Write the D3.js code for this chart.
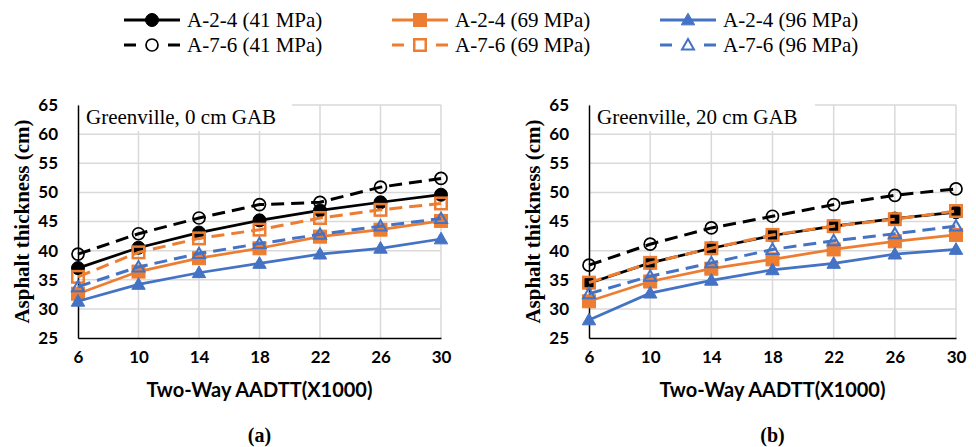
<!DOCTYPE html>
<html>
<head>
<meta charset="utf-8">
<script src="https://cdn.jsdelivr.net/npm/d3@7"></script>
<style>
  body { margin: 0; background: #fff; }
  svg { display: block; }
</style>
</head>
<body>
<div id="chart"></div>
<script>
// Dados
const traffic = [6, 10, 14, 18, 22, 26, 30];
const yTicks = [25, 30, 35, 40, 45, 50, 55, 60, 65];

const seriesNames = ["A-2-4 (41 MPa)", "A-2-4 (69 MPa)", "A-2-4 (96 MPa)",
                     "A-7-6 (41 MPa)", "A-7-6 (69 MPa)", "A-7-6 (96 MPa)"];

// (a) Greenville, 0 cm GAB
const a_A24_41 = [37.0, 40.5, 43.1, 45.2, 46.9, 48.3, 49.6];
const a_A24_69 = [32.6, 36.4, 38.7, 40.4, 42.4, 43.6, 45.1];
const a_A24_96 = [31.3, 34.2, 36.2, 37.8, 39.4, 40.4, 42.0];
const a_A76_41 = [39.4, 42.9, 45.6, 47.9, 48.3, 50.9, 52.4];
const a_A76_69 = [35.5, 39.7, 42.1, 43.6, 45.6, 47.0, 48.1];
const a_A76_96 = [33.8, 37.2, 39.5, 41.2, 42.8, 44.2, 45.5];

// (b) Greenville, 20 cm GAB
const b_A24_41 = [34.4, 37.9, 40.4, 42.6, 44.2, 45.5, 46.6];
const b_A24_69 = [31.3, 34.7, 36.9, 38.5, 40.2, 41.6, 42.7];
const b_A24_96 = [28.1, 32.7, 34.9, 36.7, 37.8, 39.4, 40.2];
const b_A76_41 = [37.5, 41.1, 43.9, 45.9, 47.9, 49.5, 50.6];
const b_A76_69 = [34.5, 37.9, 40.4, 42.7, 44.2, 45.4, 46.8];
const b_A76_96 = [32.6, 35.6, 37.9, 40.2, 41.7, 42.9, 44.2];

const panels = [
    { label: "Greenville, 0 cm GAB", tag: "(a)", x0: 78, x1: 441, boxW: 213,
      values: [a_A24_41, a_A24_69, a_A24_96, a_A76_41, a_A76_69, a_A76_96] },
    { label: "Greenville, 20 cm GAB", tag: "(b)", x0: 589, x1: 956, boxW: 225,
      values: [b_A24_41, b_A24_69, b_A24_96, b_A76_41, b_A76_69, b_A76_96] }
];

// Estilos por série
const orange = "#ED7D31", blue = "#4472C4";
const styles = [
    { color: "#000", dash: null, marker: "circle", filled: true },
    { color: orange, dash: null, marker: "square", filled: true },
    { color: blue, dash: null, marker: "triangle", filled: true },
    { color: "#000", dash: "13,7", marker: "circle", filled: false },
    { color: orange, dash: "13,7", marker: "square", filled: false },
    { color: blue, dash: "13,7", marker: "triangle", filled: false }
];

const W = 976, H = 447;
const plotTop = 105, plotBottom = 338;
const serif = "'Liberation Serif', 'Times New Roman', serif";
const sans = "Lato, 'Liberation Sans', Arial, sans-serif";

const svg = d3.select("#chart").append("svg")
    .attr("width", W).attr("height", H);

function drawMarker(g, type, filled, color, x, y) {
    if (type === "circle") {
        g.append("circle").attr("cx", x).attr("cy", y)
            .attr("r", filled ? 6.5 : 6)
            .attr("fill", filled ? color : "none")
            .attr("stroke", color).attr("stroke-width", filled ? 1 : 1.7);
    } else if (type === "square") {
        const s = filled ? 13 : 11.5;
        g.append("rect").attr("x", x - s / 2).attr("y", y - s / 2)
            .attr("width", s).attr("height", s)
            .attr("fill", filled ? color : "none")
            .attr("stroke", color).attr("stroke-width", filled ? 1 : 2.5);
    } else {
        g.append("path")
            .attr("d", d3.symbol().type(d3.symbolTriangle).size(filled ? 78 : 62)())
            .attr("transform", `translate(${x},${y + 1})`)
            .attr("fill", filled ? color : "none")
            .attr("stroke", color).attr("stroke-width", filled ? 1 : 2);
    }
}

panels.forEach(p => {
    const x = d3.scaleLinear().domain([6, 30]).range([p.x0, p.x1]);
    const y = d3.scaleLinear().domain([25, 65]).range([plotBottom, plotTop]);
    const g = svg.append("g");

    // Grade
    g.append("g").selectAll("line.h")
        .data(yTicks.slice(1)).enter().append("line")
        .attr("x1", p.x0).attr("x2", p.x1)
        .attr("y1", d => y(d)).attr("y2", d => y(d))
        .attr("stroke", "#d9d9d9").attr("stroke-width", 1.5);
    g.append("g").selectAll("line.v")
        .data(traffic.slice(1)).enter().append("line")
        .attr("x1", d => x(d)).attr("x2", d => x(d))
        .attr("y1", plotTop).attr("y2", plotBottom)
        .attr("stroke", "#d9d9d9").attr("stroke-width", 1.5);

    // Caixa branca do rótulo
    g.append("rect").attr("x", p.x0 + 1).attr("y", plotTop - 5)
        .attr("width", p.boxW).attr("height", 31).attr("fill", "#fff");
    g.append("text").attr("x", p.x0 + 8).attr("y", plotTop + 19)
        .style("font-family", serif).style("font-size", "21px")
        .text(p.label);

    // Eixos
    const yAxis = d3.axisLeft(y).tickValues(yTicks).tickSize(0).tickPadding(20);
    const xAxis = d3.axisBottom(x).tickValues(traffic).tickSize(0).tickPadding(13);
    const ya = g.append("g").attr("transform", `translate(${p.x0},0)`).call(yAxis);
    const xa = g.append("g").attr("transform", `translate(0,${plotBottom})`).call(xAxis);
    [ya, xa].forEach(a => {
        a.select(".domain").attr("stroke", "#000").attr("stroke-width", 1.5);
        a.selectAll("text").style("font-family", sans).style("font-weight", "bold")
            .style("font-size", "17px").attr("fill", "#000");
    });

    // Séries
    const line = d3.line().x((d, i) => x(traffic[i])).y(d => y(d));
    p.values.forEach((vals, k) => {
        const st = styles[k];
        const sg = g.append("g");
        sg.append("path").datum(vals).attr("d", line)
            .attr("fill", "none").attr("stroke", st.color)
            .attr("stroke-width", st.dash ? 3 : 2.7)
            .attr("stroke-dasharray", st.dash);
        vals.forEach((v, i) => drawMarker(sg, st.marker, st.filled, st.color, x(traffic[i]), y(v)));
    });

    // Títulos
    const cx = (p.x0 + p.x1) / 2;
    g.append("text").attr("x", cx).attr("y", 397).attr("text-anchor", "middle")
        .style("font-family", sans).style("font-weight", "bold").style("font-size", "20px")
        .text("Two-Way AADTT(X1000)");
    g.append("text").attr("x", cx).attr("y", 442).attr("text-anchor", "middle")
        .style("font-family", serif).style("font-weight", "bold").style("font-size", "20px")
        .text(p.tag);
    g.append("text")
        .attr("transform", `translate(${p.x0 - 49},${(plotTop + plotBottom) / 2}) rotate(-90)`)
        .attr("text-anchor", "middle")
        .style("font-family", serif).style("font-weight", "bold").style("font-size", "21px")
        .text("Asphalt thickness (cm)");
});

// Legenda
const legX = [124, 392, 660];
const legY = [20, 45];
seriesNames.forEach((name, k) => {
    const st = styles[k];
    const lx = legX[k % 3], ly = legY[Math.floor(k / 3)];
    const lg = svg.append("g");
    lg.append("line").attr("x1", lx).attr("x2", lx + 56)
        .attr("y1", ly).attr("y2", ly)
        .attr("stroke", st.color).attr("stroke-width", 3)
        .attr("stroke-dasharray", st.dash ? "12,32" : null);
    drawMarker(lg, st.marker, st.filled, st.color, lx + 28, ly);
    lg.append("text").attr("x", lx + 63).attr("y", ly + 7)
        .style("font-family", serif).style("font-size", "21px")
        .text(name);
});
</script>
</body>
</html>
